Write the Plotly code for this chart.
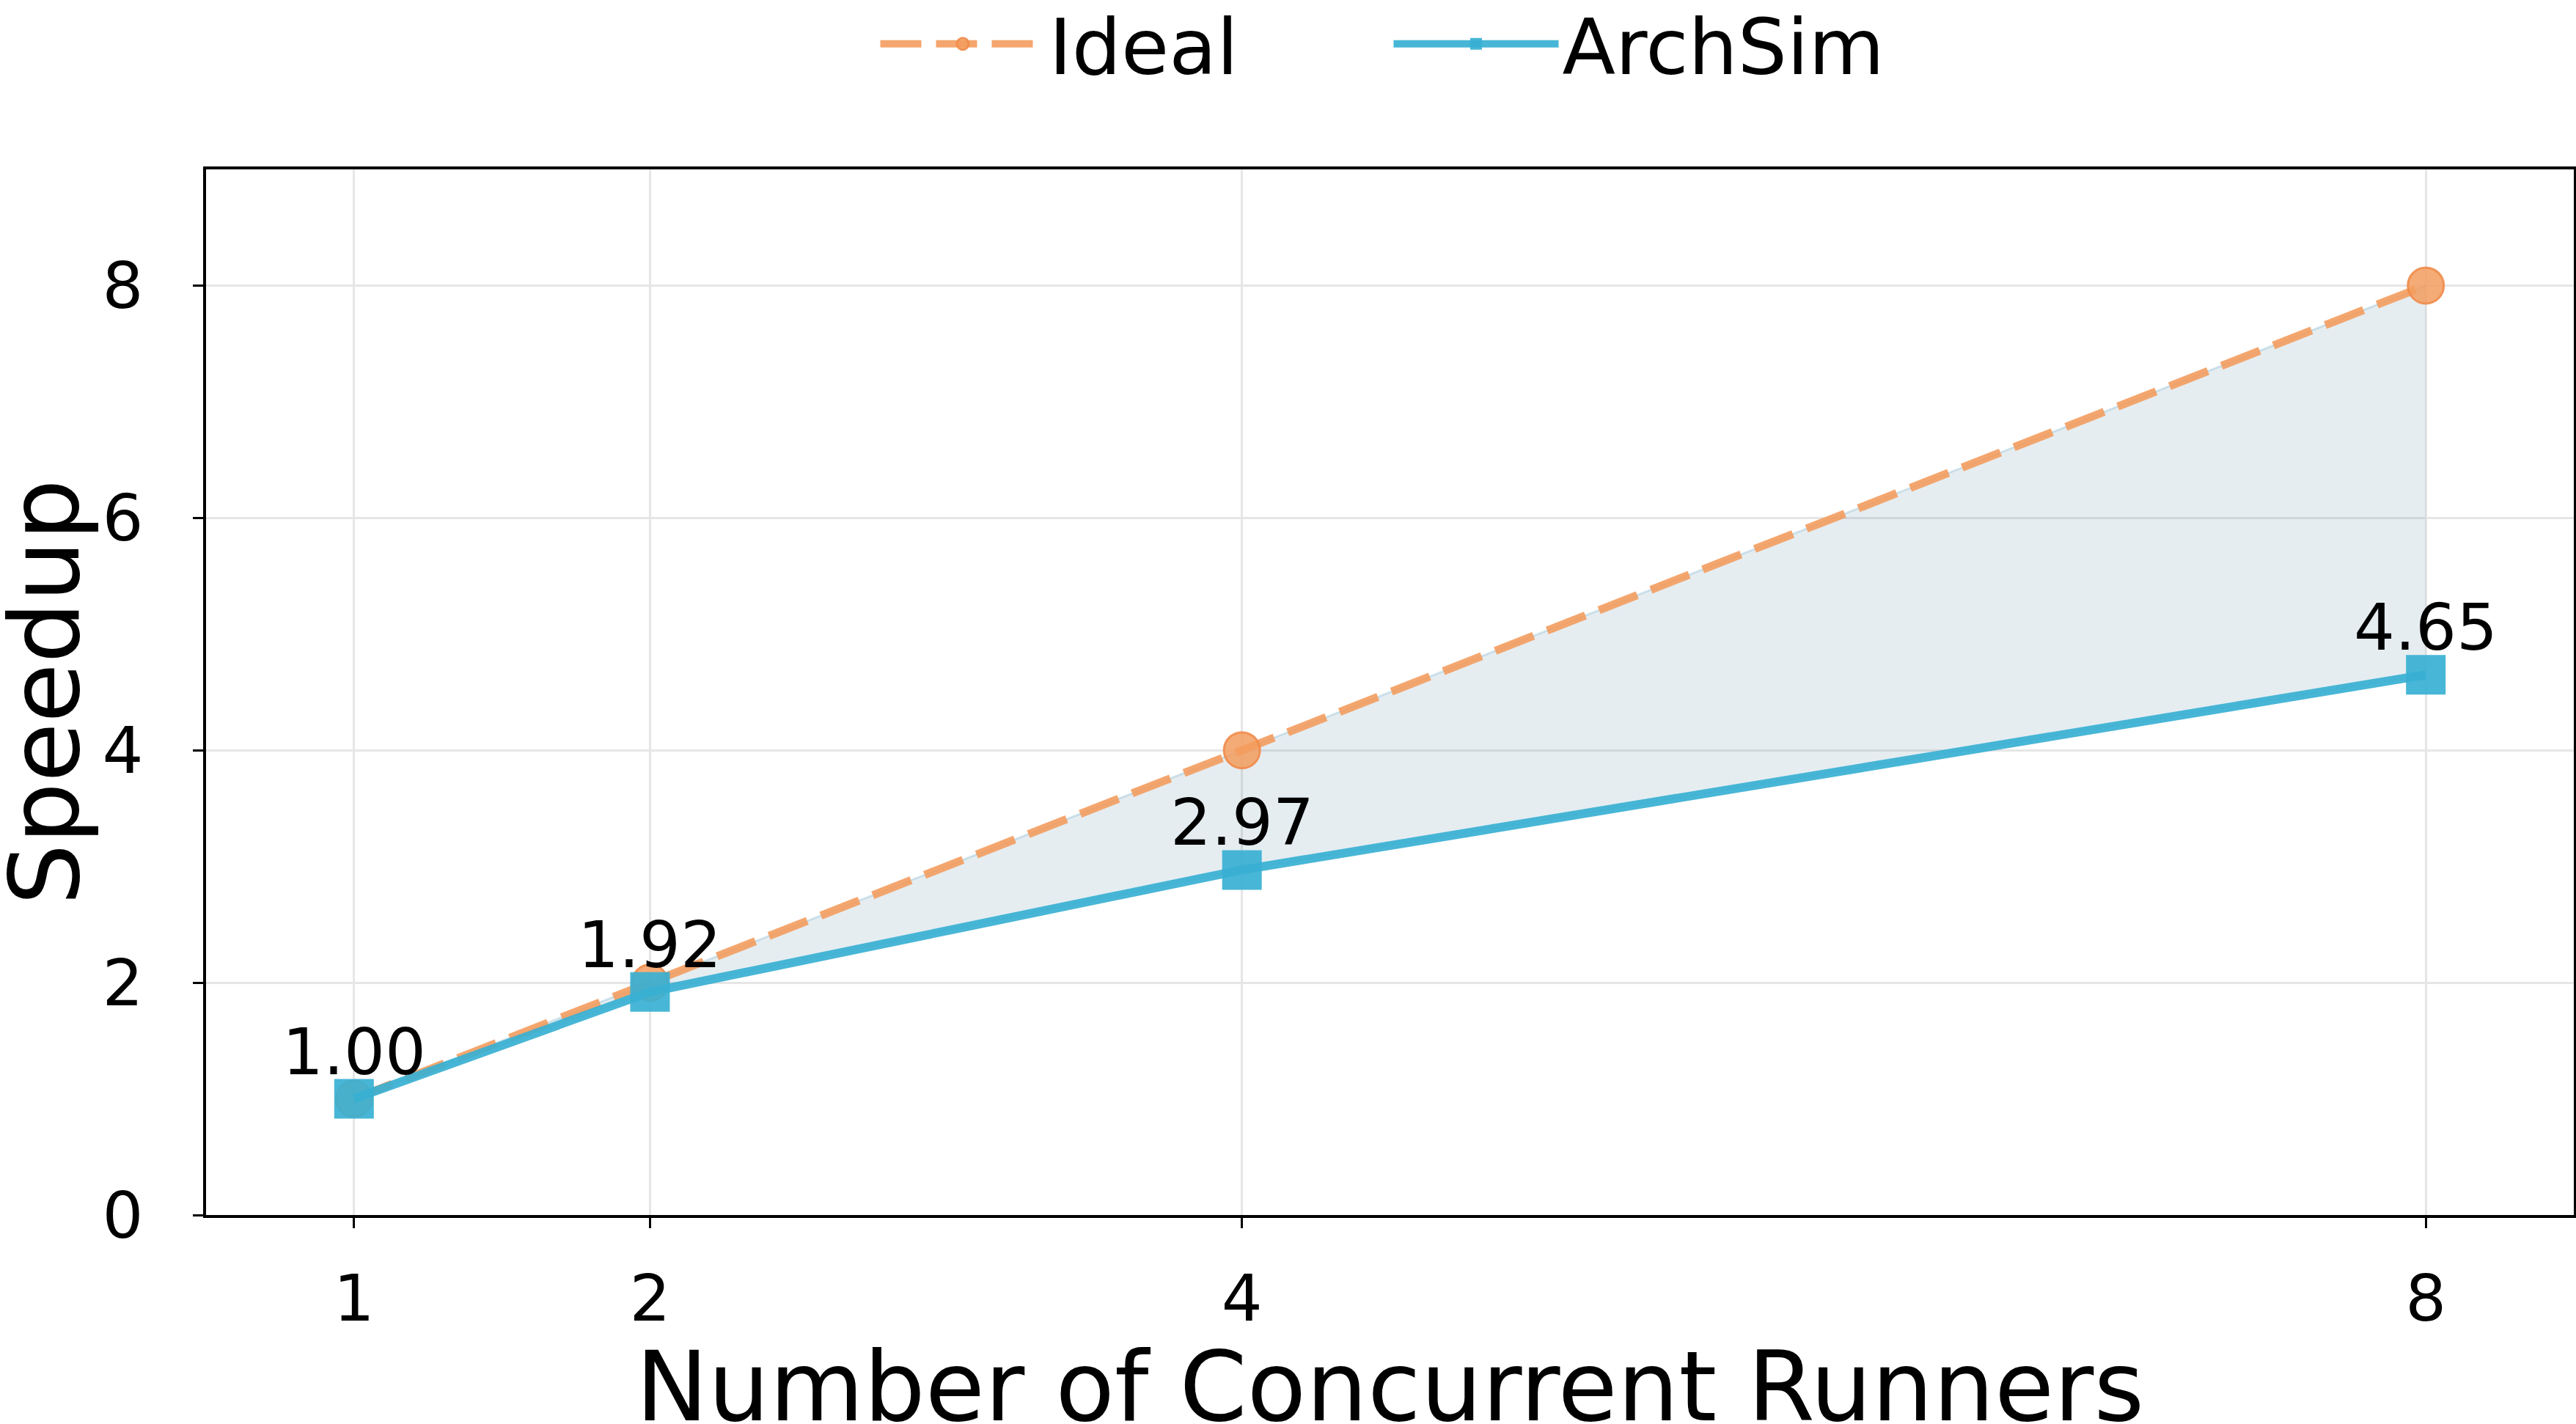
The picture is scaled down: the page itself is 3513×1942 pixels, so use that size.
import plotly.graph_objects as go

runners = [1, 2, 4, 8]
ideal = [1, 2, 4, 8]
archsim = [1.00, 1.92, 2.97, 4.65]
labels = ["1.00", "1.92", "2.97", "4.65"]
x_ticks = [1, 2, 4, 8]
y_ticks = [0, 2, 4, 6, 8]
x_title = "Number of Concurrent Runners"
y_title = "Speedup"

ORANGE = "rgba(243,156,94,0.9)"
BLUE = "rgba(56,176,210,0.92)"

fig = go.Figure()
# shaded gap between ideal and measured
fig.add_trace(go.Scatter(x=runners, y=ideal, mode="lines",
                         line=dict(color="rgba(90,160,190,0.25)", width=3),
                         showlegend=False, hoverinfo="skip"))
fig.add_trace(go.Scatter(x=runners, y=archsim, mode="lines",
                         line=dict(color="rgba(90,160,190,0.25)", width=3),
                         fill="tonexty", fillcolor="rgba(80,135,160,0.15)",
                         showlegend=False, hoverinfo="skip"))
fig.add_trace(go.Scatter(x=runners, y=ideal, name="Ideal", mode="lines+markers",
                         line=dict(color=ORANGE, width=11, dash="56px,20px"),
                         marker=dict(symbol="circle", size=49, color="rgba(243,156,94,0.85)",
                                     line=dict(color="rgba(240,140,75,0.9)", width=3))))
fig.add_trace(go.Scatter(x=runners, y=archsim, name="ArchSim", mode="lines+markers",
                         line=dict(color=BLUE, width=12),
                         marker=dict(symbol="square", size=54, color=BLUE, line=dict(width=0))))

for x, y, t in zip(runners, archsim, labels):
    fig.add_annotation(x=x, y=y, text=t, showarrow=False, yanchor="bottom", yshift=11,
                       font=dict(size=88, color="black"))

# axis titles
fig.add_annotation(xref="paper", yref="paper", x=0.5, y=-0.164, text=x_title,
                   showarrow=False, xanchor="center", yanchor="middle",
                   font=dict(size=132, color="black"))
fig.add_annotation(xref="paper", yref="paper", x=-0.068, y=0.5, text=y_title,
                   showarrow=False, xanchor="center", yanchor="middle", textangle=-90,
                   font=dict(size=132, color="black"))

fig.update_layout(
    width=3513, height=1942,
    margin=dict(l=281, r=3, t=231, b=285, autoexpand=False),
    paper_bgcolor="white", plot_bgcolor="white",
    font=dict(family="DejaVu Sans", color="black"),
    legend=dict(orientation="h", x=0.5, xanchor="center", y=1.12, yanchor="middle",
                traceorder="normal", font=dict(size=106), itemwidth=225,
                entrywidth=460, bgcolor="rgba(0,0,0,0)"),
    showlegend=True,
)
fig.update_xaxes(range=[0.5, 8.5], tickvals=x_ticks, ticktext=[str(v) for v in x_ticks],
                 showgrid=True, gridcolor="#E6E6E6", gridwidth=3, zeroline=False,
                 showline=True, linecolor="black", linewidth=4, mirror=True,
                 ticks="outside", ticklen=14, tickwidth=3, tickcolor="black",
                 tickfont=dict(size=88), ticklabelstandoff=20, automargin=False)
fig.update_yaxes(range=[0, 9], tickvals=y_ticks, ticktext=[str(v) for v in y_ticks],
                 showgrid=True, gridcolor="#E6E6E6", gridwidth=3, zeroline=False,
                 showline=True, linecolor="black", linewidth=4, mirror=True,
                 ticks="outside", ticklen=14, tickwidth=3, tickcolor="black",
                 tickfont=dict(size=88), ticklabelstandoff=50, automargin=False)

fig.write_html("out.html")
